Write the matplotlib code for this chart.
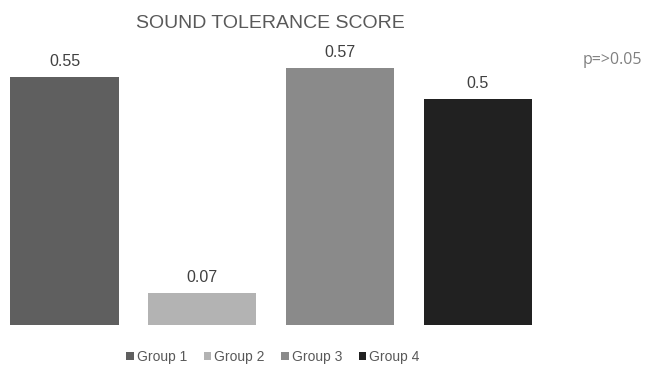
import matplotlib.pyplot as plt
from matplotlib.patches import Patch

groups = ["Group 1", "Group 2", "Group 3", "Group 4"]
scores = [0.55, 0.07, 0.57, 0.5]
bar_colors = ["#5f5f5f", "#b3b3b3", "#8a8a8a", "#212121"]

plt.rcParams["font.family"] = ["Liberation Sans", "DejaVu Sans"]

fig = plt.figure(figsize=(6.46, 3.65), dpi=100)
ax = fig.add_axes([0.0, 40 / 365, 1.0, 325 / 365])

x = list(range(len(groups)))
ax.bar(x, scores, width=0.785, color=bar_colors, edgecolor="none")
ax.set_xlim(-0.468, 4.22)
ax.set_ylim(0, 0.72)
ax.axis("off")

for xi, v in zip(x, scores):
    ax.annotate(f"{v:g}", (xi, v), xytext=(0, 15.5), textcoords="offset pixels",
                ha="center", va="center", fontsize=11.5, color="#404040")

fig.text(270 / 646, 1 - 24 / 365, "SOUND TOLERANCE SCORE", ha="center", va="center",
         fontsize=14, color="#595959")
fig.text(612 / 646, 1 - 60 / 365, "p=>0.05", ha="center", va="center",
         fontsize=11.5, color="#808080", family=["Open Sans", "DejaVu Sans"])

handles = [Patch(facecolor=c, edgecolor="none", label=g) for g, c in zip(groups, bar_colors)]
fig.legend(handles=handles, loc="center", bbox_to_anchor=(273 / 646, 1 - 357 / 365),
           ncol=4, frameon=False, fontsize=10, labelcolor="#595959",
           handlelength=0.55, handleheight=0.55, handletextpad=0.2, columnspacing=1.2,
           borderpad=0, borderaxespad=0)

fig.savefig("out.png", dpi=100)
